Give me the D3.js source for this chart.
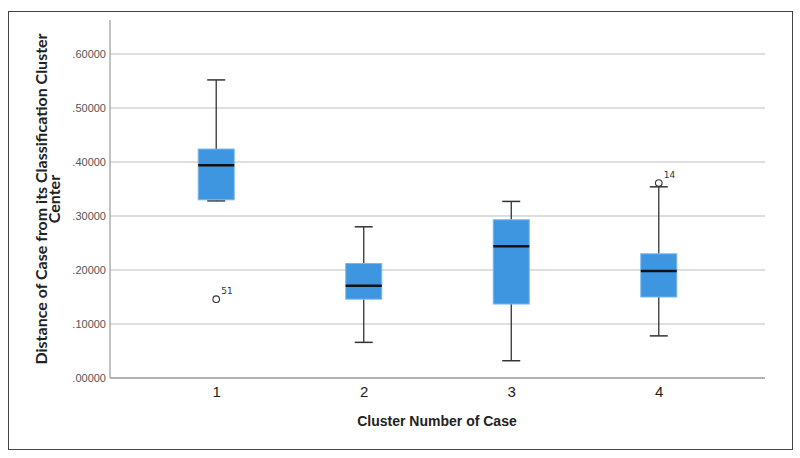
<!DOCTYPE html>
<html><head><meta charset="utf-8">
<script src="https://cdn.jsdelivr.net/npm/d3@7"></script>
<style>body{margin:0;background:#fff}svg{display:block}</style>
</head><body>
<script>
const categories = ["1","2","3","4"];
const whiskerLow  = [0.328, 0.066, 0.032, 0.078];
const q1          = [0.330, 0.146, 0.137, 0.150];
const medians     = [0.394, 0.171, 0.244, 0.198];
const q3          = [0.424, 0.212, 0.293, 0.230];
const whiskerHigh = [0.552, 0.280, 0.327, 0.354];
const outlierCat   = ["1","4"];
const outlierVal   = [0.146, 0.361];
const outlierLabel = ["51","14"];
const yTicks = [0, 0.1, 0.2, 0.3, 0.4, 0.5, 0.6];

const W = 800, H = 458;
const svg = d3.select("body").append("svg").attr("width", W).attr("height", H);

svg.append("rect").attr("x", 8.5).attr("y", 11.5).attr("width", 784).attr("height", 438)
  .attr("fill", "none").attr("stroke", "#444").attr("stroke-width", 1);

const mLeft = 110, mRight = 765, mTop = 20, mBottom = 378;
const y = d3.scaleLinear().domain([0, 0.6]).range([mBottom, 54]);
const x = d3.scalePoint().domain(categories).range([mLeft, mRight]).padding(0.72);

// gridlines
svg.append("g").selectAll("line").data(yTicks.filter(d => d > 0)).join("line")
  .attr("x1", mLeft).attr("x2", mRight).attr("y1", d => y(d)).attr("y2", d => y(d))
  .attr("stroke", "#d3d3d3").attr("stroke-width", 1.5);

// y axis
const yAxis = svg.append("g").attr("transform", `translate(${mLeft},0)`)
  .call(d3.axisLeft(y).tickValues(yTicks).tickSize(0).tickPadding(4)
    .tickFormat(d => d3.format(".5f")(d).replace(/^0/, "")));
yAxis.select(".domain").remove();
yAxis.selectAll("text").attr("font-family", "Liberation Sans, Arial, sans-serif")
  .attr("font-size", 11).attr("fill", "#555");
svg.append("line").attr("x1", mLeft).attr("x2", mLeft).attr("y1", mTop).attr("y2", mBottom)
  .attr("stroke", "#999").attr("stroke-width", 1.2);

// x axis
svg.append("line").attr("x1", mLeft).attr("x2", mRight).attr("y1", mBottom).attr("y2", mBottom)
  .attr("stroke", "#999").attr("stroke-width", 1.5);
const xAxis = svg.append("g").attr("transform", `translate(0,${mBottom})`)
  .call(d3.axisBottom(x).tickSize(0).tickPadding(8));
xAxis.select(".domain").remove();
xAxis.selectAll("text").attr("font-family", "Liberation Sans Narrow, Liberation Sans, sans-serif")
  .attr("font-size", 15).attr("fill", "#222");

const bw = 36, cw = 18;
const g = svg.append("g");
categories.forEach((c, i) => {
  const cx = x(c);
  g.append("line").attr("x1", cx).attr("x2", cx).attr("y1", y(whiskerHigh[i])).attr("y2", y(q3[i]))
    .attr("stroke", "#333").attr("stroke-width", 1.3);
  g.append("line").attr("x1", cx).attr("x2", cx).attr("y1", y(q1[i])).attr("y2", y(whiskerLow[i]))
    .attr("stroke", "#333").attr("stroke-width", 1.3);
  g.append("line").attr("x1", cx - cw/2).attr("x2", cx + cw/2).attr("y1", y(whiskerHigh[i])).attr("y2", y(whiskerHigh[i]))
    .attr("stroke", "#333").attr("stroke-width", 1.5);
  g.append("line").attr("x1", cx - cw/2).attr("x2", cx + cw/2).attr("y1", y(whiskerLow[i])).attr("y2", y(whiskerLow[i]))
    .attr("stroke", "#333").attr("stroke-width", 1.5);
  g.append("rect").attr("x", cx - bw/2).attr("y", y(q3[i])).attr("width", bw)
    .attr("height", y(q1[i]) - y(q3[i]))
    .attr("fill", "#3f96e0").attr("stroke", "#78b6ec").attr("stroke-width", 1);
  g.append("line").attr("x1", cx - bw/2).attr("x2", cx + bw/2).attr("y1", y(medians[i])).attr("y2", y(medians[i]))
    .attr("stroke", "#111").attr("stroke-width", 2.5);
});

outlierCat.forEach((c, i) => {
  const cx = x(c), cy = y(outlierVal[i]);
  g.append("circle").attr("cx", cx).attr("cy", cy).attr("r", 3.3)
    .attr("fill", "#fff").attr("stroke", "#333").attr("stroke-width", 1.1);
  g.append("text").attr("x", cx + 5).attr("y", cy - 5).text(outlierLabel[i])
    .attr("font-family", "DejaVu Sans, sans-serif").attr("font-size", 9).attr("fill", "#333");
});

svg.append("text").attr("x", 437).attr("y", 426).attr("text-anchor", "middle")
  .attr("font-family", "Liberation Sans, Arial, sans-serif").attr("font-weight", "bold")
  .attr("font-size", 14).attr("fill", "#222").text("Cluster Number of Case");

const yt = svg.append("text").attr("transform", "translate(47,199) rotate(-90)")
  .attr("text-anchor", "middle").attr("font-family", "Lato, sans-serif").attr("font-weight", "bold")
  .attr("font-size", 16).attr("fill", "#222");
yt.append("tspan").attr("x", 0).attr("y", 0).text("Distance of Case from its Classification Cluster");
yt.append("tspan").attr("x", 0).attr("y", 13).text("Center");
</script>
</body></html>
